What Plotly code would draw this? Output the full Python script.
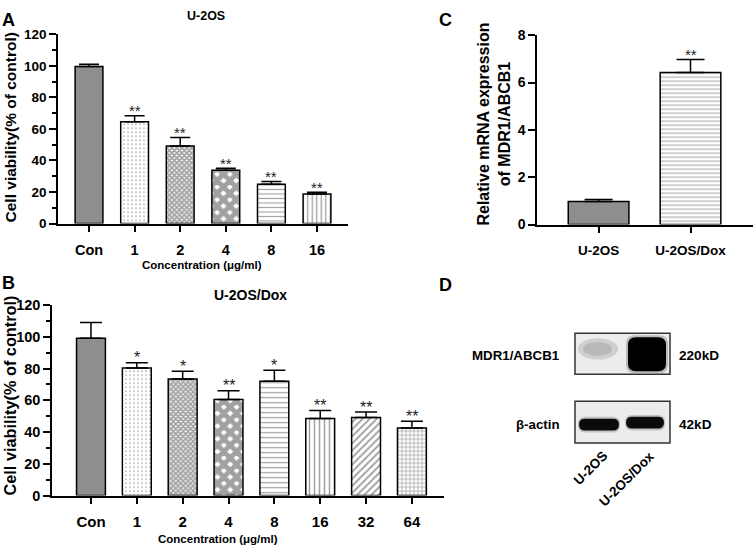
import plotly.graph_objects as go

W, H = 754, 555

# A: U-2OS cell viability
conc_a = ["Con", "1", "2", "4", "8", "16"]
via_a = [99.6, 64.5, 49.2, 33.8, 25.0, 18.8]
sd_a = [1.4, 3.8, 5.4, 1.2, 1.6, 1.0]
sig_a = ["", "**", "**", "**", "**", "**"]

# B: U-2OS/Dox cell viability
conc_b = ["Con", "1", "2", "4", "8", "16", "32", "64"]
via_b = [99.2, 80.4, 73.4, 60.5, 72.0, 48.5, 49.2, 42.6]
sd_b = [9.9, 3.3, 4.9, 5.5, 6.9, 5.1, 3.4, 4.3]
sig_b = ["", "*", "*", "**", "*", "**", "**", "**"]

# C: relative MDR1/ABCB1 mRNA
cells_c = ["U-2OS", "U-2OS/Dox"]
expr_c = [0.97, 6.42]
sd_c = [0.09, 0.55]
sig_c = ["", "**"]

# D: western blot
blot_lanes = ["U-2OS", "U-2OS/Dox"]
blot_rows = ["MDR1/ABCB1", "β-actin"]
blot_kd = ["220kD", "42kD"]
blot_signal = [[0.15, 1.0], [0.95, 0.95]]


def fx(p):
    return p / W


def fy(p):
    return 1 - p / H


FONT = "Liberation Sans, Arial, sans-serif"
GRAY = "#8e8e8e"

fig = go.Figure()
ann = []


def add_panel(cats, vals, errs, sig, xa, ya, width, cap, shapes, sizes, solid, star_size):
    fills = [GRAY if s == "" else "white" for s in shapes]
    fig.add_trace(go.Bar(
        x=cats, y=vals, width=width, xaxis=xa, yaxis=ya,
        marker=dict(color=fills, line=dict(color="black", width=1.5),
                    pattern=dict(shape=shapes, size=sizes, solidity=solid,
                                 fgcolor="black", fillmode="overlay")),
        error_y=dict(type="data", symmetric=False, array=errs,
                     arrayminus=[0] * len(errs), color="black",
                     thickness=1.5, width=cap),
    ))
    # significance marks sit on top of the error bars (x given as category index)
    for i, (v, e, s) in enumerate(zip(vals, errs, sig)):
        if s:
            ann.append(dict(x=i, y=v + e, xref=xa, yref=ya, text=s, showarrow=False,
                            yanchor="middle", yshift=5,
                            font=dict(size=star_size, family=FONT, color="#222")))


add_panel(conc_a, via_a, sd_a, sig_a, "x", "y", 0.61, 10,
          ["", ".", "x", "x", "-", "|"],
          [8, 4, 3.5, 9, 4.5, 4.5], [0, 0.15, 0.75, 0.8, 0.25, 0.3], 15)
add_panel(conc_b, via_b, sd_b, sig_b, "x2", "y2", 0.63, 11,
          ["", ".", "x", "x", "-", "|", "/", "+"],
          [8, 4, 3.5, 9, 5, 5, 5, 4], [0, 0.15, 0.75, 0.8, 0.25, 0.3, 0.4, 0.35], 16)
add_panel(cells_c, expr_c, sd_c, sig_c, "x3", "y3", 0.66, 14,
          ["", "-"], [8, 4], [0, 0.25], 15)

axis_common = dict(showline=True, linecolor="black", linewidth=1.5, ticks="outside",
                   tickcolor="black", tickwidth=1.5, ticklen=7, showgrid=False,
                   zeroline=False, color="black")


def yax(domain, anchor, rng, dtick, size, minor=None):
    d = dict(axis_common, domain=domain, anchor=anchor, range=rng, dtick=dtick,
             tickfont=dict(size=size, family=FONT, weight="bold"))
    if minor:
        d["minor"] = dict(dtick=minor, ticks="outside", ticklen=4, tickwidth=1.5,
                          tickcolor="black")
    return d


def xax(domain, anchor, rng, size):
    return dict(axis_common, domain=domain, anchor=anchor, range=rng, type="category",
                ticklabelstandoff=5, tickfont=dict(size=size, family=FONT, weight="bold"))


def txt(x, y, s, size, angle=0, xanchor="center"):
    ann.append(dict(x=fx(x), y=fy(y), xref="paper", yref="paper", text=s,
                    showarrow=False, textangle=angle, xanchor=xanchor, yanchor="middle",
                    font=dict(size=size, family=FONT, color="black", weight="bold")))


# panel letters and titles
txt(8, 12, "A", 18)
txt(8, 283, "B", 18)
txt(445, 12, "C", 18)
txt(445, 285, "D", 18)
txt(206, 8, "U-2OS", 12.5)
txt(250, 296, "U-2OS/Dox", 14)
txt(202, 265, "Concentration (μg/ml)", 11.5)
txt(218, 547, "Concentration (μg/ml)", 11.5)
txt(10, 123, "Cell viability(% of control)", 15.5, -90)
txt(10, 399, "Cell viability(% of control)", 16.3, -90)
txt(494, 120, "Relative mRNA expression<br>of MDR1/ABCB1", 16, -90)

# blot labels
row_y = [356, 427]
for r, lab, kd in zip(row_y, blot_rows, blot_kd):
    txt(562, r + 2, lab, 13.3, xanchor="right")
    txt(677, r + 2, kd, 13.6, xanchor="left")
txt(590, 474, blot_lanes[0], 13.5, -45)
txt(626, 485, blot_lanes[1], 13.5, -45)


def rrect(x0, y0, x1, y1, r):
    pts = [("M", x0 + r, y0), ("L", x1 - r, y0), ("Q", x1, y0, x1, y0 + r),
           ("L", x1, y1 - r), ("Q", x1, y1, x1 - r, y1), ("L", x0 + r, y1),
           ("Q", x0, y1, x0, y1 - r), ("L", x0, y0 + r), ("Q", x0, y0, x0 + r, y0)]
    out = []
    for p in pts:
        coords = p[1:]
        s = " ".join(f"{fx(coords[i]):.5f},{fy(coords[i + 1]):.5f}" for i in range(0, len(coords), 2))
        out.append(p[0] + s)
    return " ".join(out) + " Z"


shapes = []
# membrane boxes
for y0, y1 in [(335, 377), (405, 448)]:
    shapes.append(dict(type="rect", xref="paper", yref="paper", x0=fx(575), x1=fx(670),
                       y0=fy(y1), y1=fy(y0), fillcolor="#ececec",
                       line=dict(color="#333", width=1.5)))


def gray(v):
    g = int(235 * (1 - v))
    return f"rgb({g},{g},{g})"


# MDR1 row
shapes.append(dict(type="circle", xref="paper", yref="paper", x0=fx(578), x1=fx(618),
                   y0=fy(362), y1=fy(340), fillcolor=gray(blot_signal[0][0] + 0.05),
                   opacity=0.6, line=dict(width=0)))
shapes.append(dict(type="circle", xref="paper", yref="paper", x0=fx(583), x1=fx(612),
                   y0=fy(358), y1=fy(344), fillcolor=gray(blot_signal[0][0] + 0.15),
                   opacity=0.5, line=dict(width=0)))
shapes.append(dict(type="path", xref="paper", yref="paper",
                   path=rrect(626, 337, 668, 376, 9), fillcolor="#888",
                   opacity=0.5, line=dict(width=0)))
shapes.append(dict(type="path", xref="paper", yref="paper",
                   path=rrect(628, 339, 666, 374, 8), fillcolor=gray(blot_signal[0][1]),
                   line=dict(width=0)))
# actin row
for (x0, x1, y0, y1), v in zip([(579, 619, 423, 435), (626, 664, 421, 433)], blot_signal[1]):
    shapes.append(dict(type="path", xref="paper", yref="paper",
                       path=rrect(x0 - 1, y0 - 2, x1 + 1, y1 + 2, 7), fillcolor="#999",
                       opacity=0.5, line=dict(width=0)))
    shapes.append(dict(type="path", xref="paper", yref="paper",
                       path=rrect(x0, y0, x1, y1, 6), fillcolor=gray(v), line=dict(width=0)))

fig.update_layout(
    width=W, height=H, margin=dict(l=0, r=0, t=0, b=0),
    paper_bgcolor="white", plot_bgcolor="white", showlegend=False,
    font=dict(family=FONT, color="black"),
    xaxis=xax([fx(58), fx(348)], "y", [-0.68, 5.68], 14.5),
    yaxis=yax([fy(222), fy(27)], "x", [0, 120], 20, 13.5, minor=10),
    xaxis2=xax([fx(52), fx(444)], "y2", [-0.85, 7.7], 15),
    yaxis2=yax([fy(502), fy(306)], "x2", [0, 120], 20, 14.5, minor=10),
    xaxis3=xax([fx(537), fx(753)], "y3", [-0.67, 1.68], 13.5),
    yaxis3=yax([fy(223), fy(28)], "x3", [0, 8], 2, 14),
    annotations=ann, shapes=shapes,
)

fig.write_html("out.html", config={"displayModeBar": False},
               post_script="document.body.style.margin='0';")
